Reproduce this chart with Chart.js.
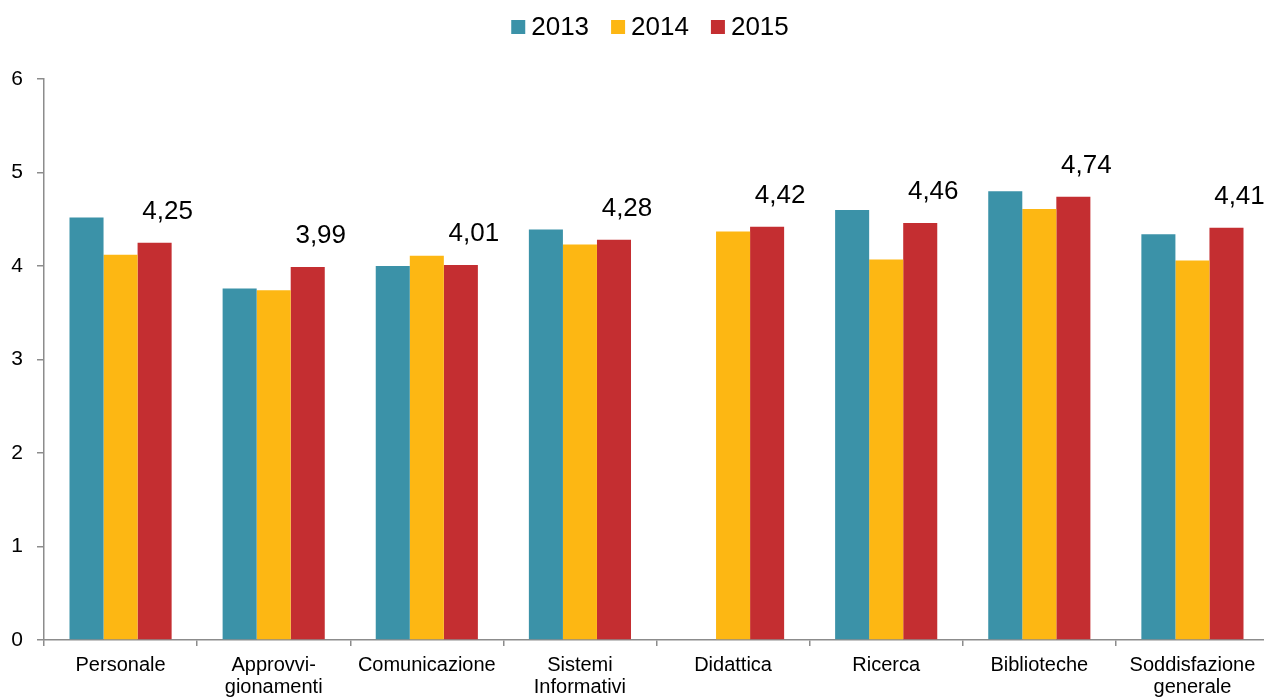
<!DOCTYPE html>
<html>
<head>
<meta charset="utf-8">
<script src="https://cdn.jsdelivr.net/npm/chart.js@4.4.0/dist/chart.umd.min.js"></script>
<style>
  html, body { margin: 0; padding: 0; background: #fff; overflow: hidden; }
  #wrap { width: 1270px; height: 699px; }
</style>
</head>
<body>
<div id="wrap"><canvas id="myChart" width="1270" height="699"></canvas></div>
<script>
// data
const categories = [
  'Personale',
  ['Approvvi-', 'gionamenti'],
  'Comunicazione',
  ['Sistemi', 'Informativi'],
  'Didattica',
  'Ricerca',
  'Biblioteche',
  ['Soddisfazione', 'generale']
];
const years = ['2013', '2014', '2015'];
const values2013 = [4.52, 3.76, 4.00, 4.39, null, 4.60, 4.80, 4.34];
const values2014 = [4.12, 3.74, 4.11, 4.23, 4.37, 4.07, 4.61, 4.06];
const values2015 = [4.25, 3.99, 4.01, 4.28, 4.42, 4.46, 4.74, 4.41];
const yTicks = [0, 1, 2, 3, 4, 5, 6];

const colors = ['#3B92A8', '#FDB713', '#C42E31'];
const FONT = '"Liberation Sans", Arial, sans-serif';
const axisGrey = '#8C8C8C';

// labels above the 2015 bars, comma decimals
const valueLabels = {
  id: 'valueLabels',
  afterDatasetsDraw: (chart) => {
    const {ctx} = chart;
    const meta = chart.getDatasetMeta(2);
    ctx.save();
    ctx.font = '26px ' + FONT;
    ctx.fillStyle = '#000';
    ctx.textAlign = 'center';
    ctx.textBaseline = 'alphabetic';
    meta.data.forEach((bar, i) => {
      const v = values2015[i];
      if (v == null) return;
      ctx.fillText(v.toFixed(2).replace('.', ','), bar.x + 13, bar.y - 24);
    });
    ctx.restore();
  }
};

// legend drawn by hand: small square, short gap, text
const topLegend = {
  id: 'topLegend',
  afterDraw: (chart) => {
    const {ctx} = chart;
    const box = 14, gap = 6, itemGap = 22, cy = 27;
    ctx.save();
    ctx.font = '26px ' + FONT;
    const widths = years.map(t => box + gap + ctx.measureText(t).width);
    const total = widths.reduce((a, b) => a + b, 0) + itemGap * (years.length - 1);
    let x = 650 - total / 2;
    ctx.textBaseline = 'middle';
    ctx.textAlign = 'left';
    years.forEach((t, i) => {
      ctx.fillStyle = colors[i];
      ctx.fillRect(x, cy - box / 2, box, box);
      ctx.fillStyle = '#000';
      ctx.fillText(t, x + box + gap, cy + 1);
      x += widths[i] + itemGap;
    });
    ctx.restore();
  }
};

const chart = document.getElementById('myChart');

const config = {
  type: 'bar',
  data: {
    labels: categories,
    datasets: [
      { label: years[0], data: values2013, backgroundColor: colors[0] },
      { label: years[1], data: values2014, backgroundColor: colors[1] },
      { label: years[2], data: values2015, backgroundColor: colors[2] }
    ]
  },
  plugins: [valueLabels, topLegend],
  options: {
    responsive: false,
    animation: false,
    layout: { padding: { top: 79, right: 1, left: 0, bottom: 0 } },
    datasets: {
      bar: { barPercentage: 1, categoryPercentage: 0.667, borderWidth: 0 }
    },
    plugins: {
      legend: { display: false },
      tooltip: { enabled: false }
    },
    scales: {
      x: {
        offset: true,
        grid: {
          offset: true,
          drawOnChartArea: false,
          drawTicks: true,
          tickLength: 6,
          color: axisGrey,
          lineWidth: 1.5
        },
        border: { color: axisGrey, width: 1.5 },
        ticks: {
          color: '#000',
          font: { family: FONT, size: 20, lineHeight: 1.1 },
          padding: 8,
          maxRotation: 0,
          minRotation: 0,
          autoSkip: false
        },
        afterFit: (scale) => { scale.height = 59; }
      },
      y: {
        min: yTicks[0],
        max: yTicks[yTicks.length - 1],
        afterBuildTicks: (scale) => { scale.ticks = yTicks.map(v => ({ value: v })); },
        grid: {
          drawOnChartArea: false,
          drawTicks: true,
          tickLength: 7,
          color: axisGrey,
          lineWidth: 1.5
        },
        border: { color: axisGrey, width: 1.5 },
        ticks: {
          color: '#000',
          font: { family: FONT, size: 21 },
          padding: 14
        },
        afterFit: (scale) => { scale.width = 44; }
      }
    }
  }
};

let myChart = new Chart(chart, config);
</script>
</body>
</html>
